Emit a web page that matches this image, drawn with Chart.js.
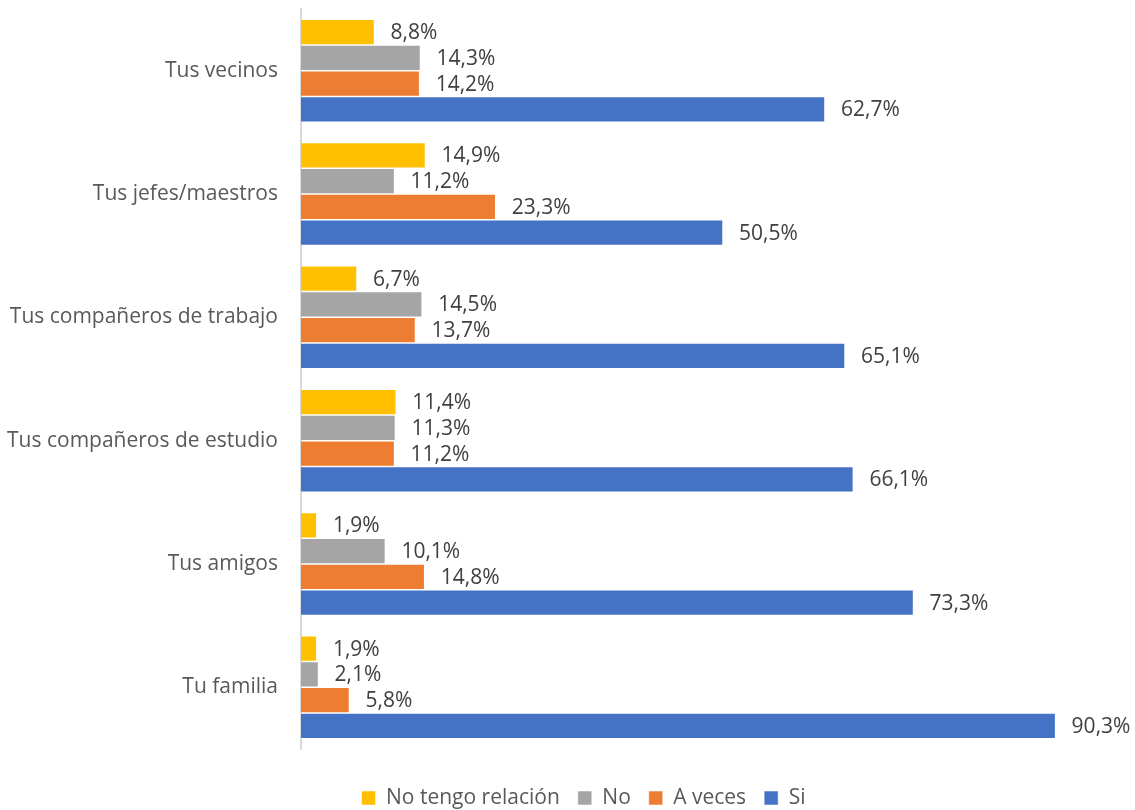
<!DOCTYPE html>
<html>
<head>
<meta charset="utf-8">
<script src="https://cdn.jsdelivr.net/npm/chart.js@4/dist/chart.umd.min.js"></script>
<style>
  html, body { margin: 0; padding: 0; background: #ffffff; }
  #wrap { width: 1135px; height: 810px; }
</style>
</head>
<body>
<div id="wrap"><canvas id="c" width="1135" height="810"></canvas></div>
<script>
const categories = ["Tus vecinos", "Tus jefes/maestros", "Tus compañeros de trabajo", "Tus compañeros de estudio", "Tus amigos", "Tu familia"];
const seriesNames = ["No tengo relación", "No", "A veces", "Si"];
const noTengoRelacion = [8.8, 14.9, 6.7, 11.4, 1.9, 1.9];
const no = [14.3, 11.2, 14.5, 11.3, 10.1, 2.1];
const aVeces = [14.2, 23.3, 13.7, 11.2, 14.8, 5.8];
const si = [62.7, 50.5, 65.1, 66.1, 73.3, 90.3];
const colors = ["#FFC000", "#A5A5A5", "#ED7D31", "#4472C4"];

const FONT = "'Open Sans', sans-serif";
const FS = 21;

const labelPlugin = {
  id: 'barLabels',
  afterDatasetsDraw(chart) {
    const ctx = chart.ctx;
    ctx.save();
    ctx.font = FS + "px " + FONT;
    ctx.fillStyle = "#404040";
    ctx.textAlign = "left";
    ctx.textBaseline = "middle";
    chart.data.datasets.forEach((ds, di) => {
      const meta = chart.getDatasetMeta(di);
      meta.data.forEach((bar, i) => {
        const v = ds.data[i];
        const txt = v.toFixed(1).replace('.', ',') + '%';
        ctx.fillText(txt, bar.x + 16, bar.y + 1);
      });
    });
    ctx.restore();
  }
};

const allSeries = [noTengoRelacion, no, aVeces, si];
const PAD_L = 0, PAD_R = -32;

new Chart(document.getElementById('c'), {
  type: 'bar',
  data: {
    labels: categories,
    datasets: allSeries.map((d, i) => ({
      label: seriesNames[i],
      data: d,
      backgroundColor: colors[i],
      borderColor: 'rgba(255,255,255,0.7)',
      borderWidth: 0.75,
      categoryPercentage: 0.835,
      barPercentage: 1.0
    }))
  },
  options: {
    indexAxis: 'y',
    responsive: false,
    animation: false,
    devicePixelRatio: 1,
    layout: { padding: { top: 9, left: PAD_L, right: PAD_R, bottom: 0 } },
    plugins: {
      tooltip: { enabled: false },
      legend: {
        position: 'bottom',
        maxHeight: 40.5,
        labels: {
          boxWidth: 14,
          boxHeight: 14,
          padding: 18,
          color: '#595959',
          font: { family: FONT, size: FS }
        }
      }
    },
    scales: {
      x: {
        min: 0,
        max: 99.8,
        display: true,
        ticks: { display: false },
        grid: { display: false, drawTicks: false },
        border: { display: false },
        afterFit: (s) => { s.height = 20.5; }
      },
      y: {
        ticks: {
          color: '#595959',
          font: { family: FONT, size: FS },
          padding: 23
        },
        grid: { display: false, drawTicks: false },
        border: { display: true, color: '#d9d9d9', width: 2 },
        afterFit: (s) => { s.width = 301 - PAD_L; s.paddingTop = 0; s.paddingBottom = 0; }
      }
    }
  },
  plugins: [labelPlugin]
});
</script>
</body>
</html>
